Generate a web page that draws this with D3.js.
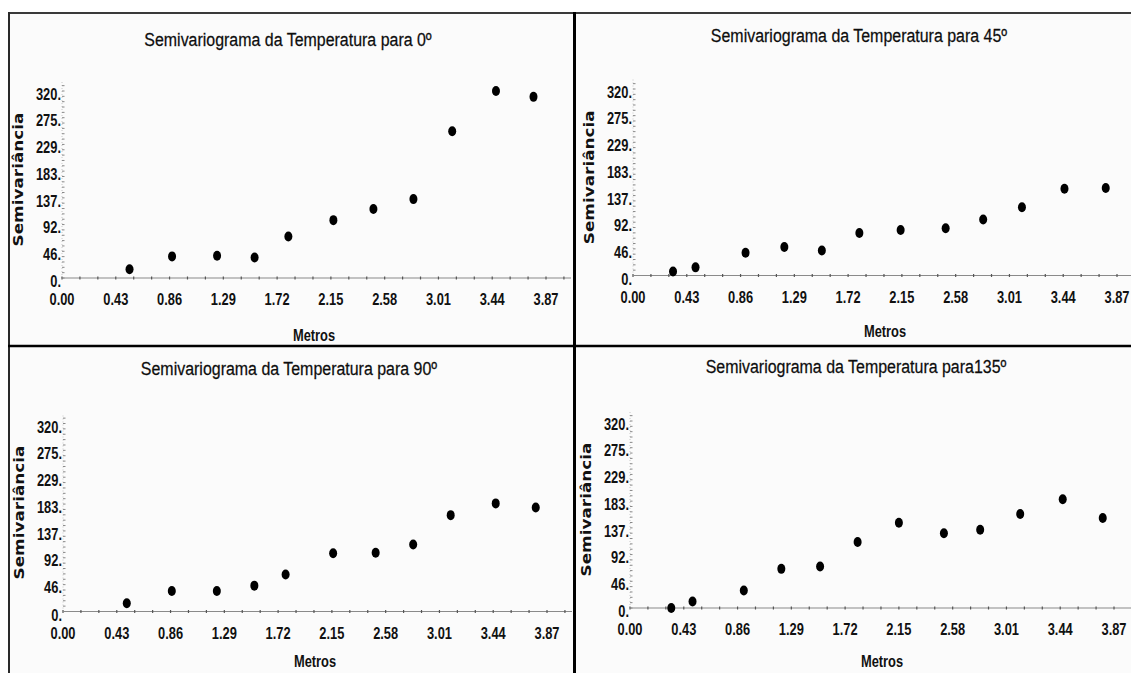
<!DOCTYPE html>
<html>
<head>
<meta charset="utf-8">
<script src="https://cdn.jsdelivr.net/npm/d3@7"></script>
<style>
  body { margin: 0; background: #ffffff; }
  text { font-family: 'Liberation Sans', Arial, sans-serif; }
  .title { font-size: 19px; font-weight: 400; fill: #0d0d0d; stroke: #0d0d0d; stroke-width: 0.25px; }
  .tick { font-size: 16.5px; font-weight: 700; fill: #111; }
  .ytitle { font-family: 'DejaVu Sans', sans-serif; font-size: 14px; font-weight: 700; fill: #111; }
</style>
</head>
<body>
<svg id="chart" width="1131" height="673"></svg>
<script>
// data
const titles = [
    "Semivariograma da Temperatura para 0º",
    "Semivariograma da Temperatura para 45º",
    "Semivariograma da Temperatura para 90º",
    "Semivariograma da Temperatura para135º"
];
const lags0 = [0.54, 0.88, 1.24, 1.54, 1.81, 2.17, 2.49, 2.81, 3.12, 3.47, 3.77];
const gamma0 = [15, 37, 38, 35, 71, 99, 118, 135, 251, 320, 310];
const lags45 = [0.32, 0.50, 0.90, 1.21, 1.51, 1.81, 2.14, 2.50, 2.80, 3.11, 3.45, 3.78];
const gamma45 = [7, 14, 39, 49, 43, 73, 78, 81, 96, 117, 149, 150];
const lags90 = [0.51, 0.87, 1.23, 1.53, 1.78, 2.16, 2.50, 2.80, 3.10, 3.46, 3.78];
const gamma90 = [14, 35, 35, 44, 63, 99, 100, 114, 164, 184, 177];
const lags135 = [0.33, 0.50, 0.91, 1.21, 1.52, 1.82, 2.15, 2.51, 2.80, 3.12, 3.46, 3.78];
const gamma135 = [0, 11, 30, 67, 71, 113, 146, 128, 134, 161, 186, 154];

const xTicks = [0, 0.43, 0.86, 1.29, 1.72, 2.15, 2.58, 3.01, 3.44, 3.87];
const xTickLabels = ["0.00", "0.43", "0.86", "1.29", "1.72", "2.15", "2.58", "3.01", "3.44", "3.87"];
const yTicks = [0, 46, 92, 137, 183, 229, 275, 320];
const yTickLabels = ["0.", "46.", "92.", "137.", "183.", "229.", "275.", "320."];

const series = [
    {lags: lags0, gamma: gamma0},
    {lags: lags45, gamma: gamma45},
    {lags: lags90, gamma: gamma90},
    {lags: lags135, gamma: gamma135}
];

// where each plot sits: left of x axis, pixel of 0 and of 320, title baseline
const layout = [
    {left: 62, y0: 278, y320: 91, titleY: 46, metrosY: 341},
    {left: 633, y0: 275.5, y320: 89, titleY: 42, metrosY: 337},
    {left: 63, y0: 611.5, y320: 423.5, titleY: 375, metrosY: 667},
    {left: 630, y0: 608, y320: 421, titleY: 373, metrosY: 667}
];

// the reference uses a narrow face, so squeeze Liberation Sans sideways
const narrow = 0.78;
const tr = (x, y, s) => `translate(${x},${y}) scale(${s},1)`;

const svg = d3.select("#chart");

// panel background
svg.append("rect").attr("x", 8).attr("y", 13).attr("width", 1131).attr("height", 673).attr("fill", "#fbfbfb");

series.forEach((s, i) => {
    const L = layout[i];
    const g = svg.append("g");

    const x = d3.scaleLinear().domain([0, 3.87]).range([L.left, L.left + 484]);
    const y = d3.scaleLinear().domain([0, 320]).range([L.y0, L.y320]);
    const xEnd = x(4.07);
    const yTop = y(337);

    // title
    g.append("text").attr("class", "title")
        .attr("transform", tr(L.left + 226, L.titleY, 0.84))
        .attr("text-anchor", "middle").text(titles[i]);

    // axis lines
    g.append("line").attr("x1", L.left).attr("x2", xEnd).attr("y1", L.y0).attr("y2", L.y0)
        .attr("stroke", "#8a8a8a").attr("stroke-width", 1.2);
    g.append("line").attr("x1", L.left).attr("x2", L.left).attr("y1", L.y0).attr("y2", yTop)
        .attr("stroke", "#c8c8c8").attr("stroke-width", 1).attr("stroke-dasharray", "1,2");

    // minor ticks
    const xMinor = d3.range(0, 4.07, 0.43 / 3);
    g.selectAll(".xm").data(xMinor).join("line")
        .attr("x1", d => x(d)).attr("x2", d => x(d))
        .attr("y1", L.y0 - 1.5).attr("y2", L.y0 + 1.5)
        .attr("stroke", "#555").attr("stroke-width", 1.2);
    const yMinor = d3.range(0, 337, 320 / 35);
    g.selectAll(".ym").data(yMinor).join("line")
        .attr("x1", L.left).attr("x2", L.left + 2.5)
        .attr("y1", d => y(d)).attr("y2", d => y(d))
        .attr("stroke", "#888").attr("stroke-width", 1);

    // tick labels
    g.selectAll(".xl").data(xTicks).join("text").attr("class", "tick")
        .attr("transform", d => tr(x(d), L.y0 + 27, narrow))
        .attr("text-anchor", "middle").text((d, k) => xTickLabels[k]);
    g.selectAll(".yl").data(yTicks).join("text").attr("class", "tick")
        .attr("transform", d => tr(L.left - 1, y(d) + 9, narrow))
        .attr("text-anchor", "end").text((d, k) => yTickLabels[k]);

    // axis titles
    g.append("text").attr("class", "tick")
        .attr("transform", tr(L.left + 252, L.metrosY, narrow))
        .attr("text-anchor", "middle").text("Metros");
    const yc = (L.y0 + L.y320) / 2 - 5;
    g.append("text").attr("class", "ytitle")
        .attr("transform", `translate(${L.left - 39},${yc}) rotate(-90)`)
        .attr("text-anchor", "middle")
        .attr("textLength", 134).attr("lengthAdjust", "spacingAndGlyphs")
        .text("Semivariância");

    // points
    g.selectAll(".pt").data(s.lags).join("ellipse")
        .attr("cx", d => x(d)).attr("cy", (d, k) => y(s.gamma[k]))
        .attr("rx", 4).attr("ry", 5).attr("fill", "#000");
});

// frame lines
svg.append("line").attr("x1", 8).attr("x2", 1131).attr("y1", 13).attr("y2", 13).attr("stroke", "#3a3a3a").attr("stroke-width", 2);
svg.append("line").attr("x1", 9).attr("x2", 9).attr("y1", 12).attr("y2", 673).attr("stroke", "#2a2a2a").attr("stroke-width", 2);
svg.append("line").attr("x1", 574.5).attr("x2", 574.5).attr("y1", 12).attr("y2", 673).attr("stroke", "#000").attr("stroke-width", 3);
svg.append("line").attr("x1", 8).attr("x2", 1131).attr("y1", 346).attr("y2", 346).attr("stroke", "#000").attr("stroke-width", 2.5);
</script>
</body>
</html>
